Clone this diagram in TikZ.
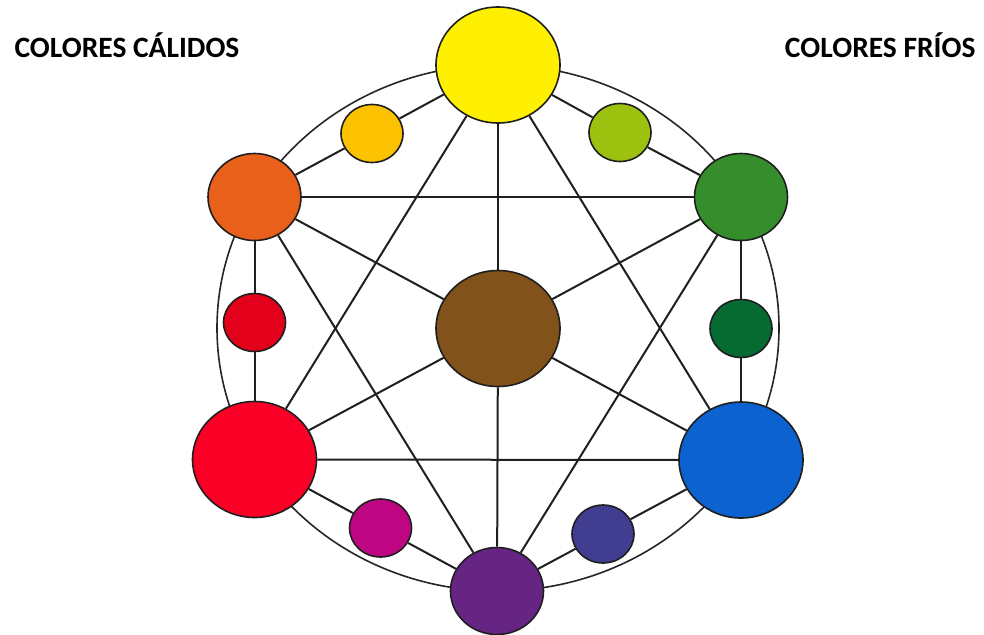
\documentclass[tikz,border=0pt]{standalone}
\usepackage{fontspec}
\setmainfont{Carlito}
\usetikzlibrary{shapes.geometric}

\definecolor{cYellow}{HTML}{FFEF00}
\definecolor{cYellowOrange}{HTML}{FCC200}
\definecolor{cOrange}{HTML}{E8601A}
\definecolor{cRedOrange}{HTML}{E2001A}
\definecolor{cRed}{HTML}{FA0026}
\definecolor{cRedViolet}{HTML}{BE0683}
\definecolor{cViolet}{HTML}{662483}
\definecolor{cBlueViolet}{HTML}{413D91}
\definecolor{cBlue}{HTML}{0B62D0}
\definecolor{cBlueGreen}{HTML}{056B30}
\definecolor{cGreen}{HTML}{368D2B}
\definecolor{cYellowGreen}{HTML}{9DC10F}
\definecolor{cBrown}{HTML}{815219}

\begin{document}
\begin{tikzpicture}[x=1pt,y=-1pt]
      \useasboundingbox (0,0) rectangle (984,634);
      \tikzset{
        vertex/.style = {ellipse, draw=black!88, line width=1.6pt, inner sep=0pt},
        primary/.style = {vertex, minimum width=124pt, minimum height=116pt},
        secondary/.style = {vertex, minimum width=93pt, minimum height=87pt},
        tertiary/.style = {vertex, minimum width=62pt, minimum height=58pt},
        title/.style = {font=\bfseries\fontsize{29.5}{32}\selectfont}
      }

      % Titles
      \node[title, anchor=base west] (warm) at (11,57) {COLORES CÁLIDOS};
      \node[title, anchor=base east] (cold) at (979,57) {COLORES FRÍOS};

      % Ring
      \coordinate (M) at (498,328);
      \draw[line width=1.6pt, black!85] (M) ellipse [x radius=281pt, y radius=263pt];

      % Vertices
      \node[primary, fill=cYellow] (Y) at (498,65) {};
      \node[tertiary, fill=cYellowOrange] (YO) at (372,133.5) {};
      \node[secondary, fill=cOrange] (O) at (254.5,197) {};
      \node[tertiary, fill=cRedOrange] (RO) at (254.5,322.5) {};
      \node[primary, fill=cRed] (R) at (254.5,459.5) {};
      \node[tertiary, fill=cRedViolet] (RV) at (380.5,528) {};
      \node[secondary, fill=cViolet] (V) at (497,591) {};
      \node[tertiary, fill=cBlueViolet] (BV) at (603,534) {};
      \node[primary, fill=cBlue] (B) at (741,460) {};
      \node[tertiary, fill=cBlueGreen] (BG) at (741,328.5) {};
      \node[secondary, fill=cGreen] (G) at (741,197) {};
      \node[tertiary, fill=cYellowGreen] (YG) at (620,132.5) {};
      \node[primary, fill=cBrown] (C) at (498,328.5) {};

      % Edges
      \tikzset{EdgeStyle/.style = {draw=black!88, line width=2pt}}
      % hexagon through the small circles
      \foreach \a/\b in {Y/YO,YO/O,O/RO,RO/R,R/RV,RV/V,V/BV,BV/B,B/BG,BG/G,G/YG,YG/Y}
        \draw[EdgeStyle] (\a) -- (\b);
      % two triangles
      \foreach \a/\b in {Y/R,R/B,B/Y,O/G,G/V,V/O}
        \draw[EdgeStyle] (\a) -- (\b);
      % spokes
      \foreach \a in {Y,O,R,V,B,G}
        \draw[EdgeStyle] (C) -- (\a);
    \end{tikzpicture}
\end{document}
